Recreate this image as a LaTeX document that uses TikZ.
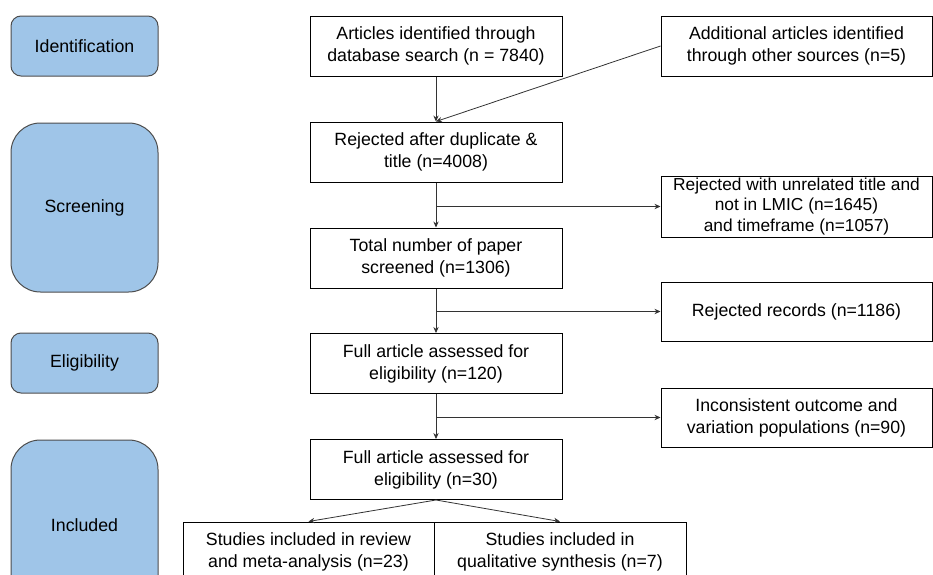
\documentclass[tikz,border=0pt]{standalone}
\usepackage{fontspec}
\setmainfont{Liberation Sans}
\usetikzlibrary{arrows.meta}
\usetikzlibrary{positioning}
\definecolor{stageblue}{HTML}{9FC5E8}
\definecolor{stageline}{HTML}{4D4D4D}
\tikzset{
  stage/.style={draw=stageline, fill=stageblue, line width=0.75pt, minimum width=110.25pt, align=center},
  flowbox/.style={draw=black, line width=0.75pt, minimum width=189pt, minimum height=45pt, align=center, inner sep=0pt},
  sidebox/.style={flowbox, minimum width=203.25pt},
  flowarrow/.style={-{Stealth[length=4.5pt,width=4pt]}, line width=0.6pt, draw=black!80},
}
\begin{document}
\begin{tikzpicture}[x=0.75pt, y=-0.75pt, font=\fontsize{13.3}{16.5}\selectfont]
  \useasboundingbox (0,0) rectangle (933,575);
  \clip (0,0) rectangle (933,575);

    % stages on the left
    \node (ident) [stage, minimum height=45pt, rounded corners=7.5pt] at (84.5,46) {Identification};
    \node (screen) [stage, minimum height=126.75pt, rounded corners=22pt] at (84.5,207.5) {Screening};
    \node (elig) [stage, minimum height=45pt, rounded corners=7.5pt] at (84.5,363) {Eligibility};
    \node (incl) [stage, minimum height=127.5pt, rounded corners=22pt] at (84.5,525) {Included};

    % main column
    \node (search) [flowbox] at (436,46) {Articles identified through\\database search (n = 7840)};
    \node (dup) [flowbox] at (436,152) {Rejected after duplicate \&\\title (n=4008)};
    \node (total) [flowbox] at (436,258) {Total number of paper\\screened (n=1306)};
    \node (full120) [flowbox] at (436,363.5) {Full article assessed for\\eligibility (n=120)};
    \node (full30) [flowbox] at (436,469.5) {Full article assessed for\\eligibility (n=30)};
    \node (meta) [flowbox, minimum width=188.25pt] at (308.5,552) {Studies included in review\\and meta-analysis (n=23)};
    \node (qual) [flowbox] at (560,552) {Studies included in\\qualitative synthesis (n=7)};

    % side column
    \node (other) [sidebox] at (796.5,46) {Additional articles identified\\through other sources (n=5)};
    \node (unrel) [sidebox, minimum height=45.75pt, font=\fontsize{13}{15.4}\selectfont] at (796.5,206.5) {Rejected with unrelated title and\\not in LMIC (n=1645)\\and timeframe (n=1057)};
    \node (recs) [sidebox, minimum height=44.25pt] at (796.5,311.5) {Rejected records (n=1186)};
    \node (incons) [sidebox, minimum height=44.25pt] at (796.5,417.5) {Inconsistent outcome and\\variation populations (n=90)};

    \draw [flowarrow] (search) -- (dup);
    \draw [flowarrow] (other.west) -- (dup.north);
    \draw [flowarrow] (dup) -- (total);
    \draw [flowarrow] (total) -- (full120);
    \draw [flowarrow] (full120) -- (full30);
    \draw [flowarrow] (unrel.west -| dup.south) -- (unrel.west);
    \draw [flowarrow] (recs.west -| total.south) -- (recs.west);
    \draw [flowarrow] (incons.west -| full120.south) -- (incons.west);
    \draw [flowarrow] (full30.south) -- (meta.north);
    \draw [flowarrow] (full30.south) -- (qual.north);
\end{tikzpicture}
\end{document}
